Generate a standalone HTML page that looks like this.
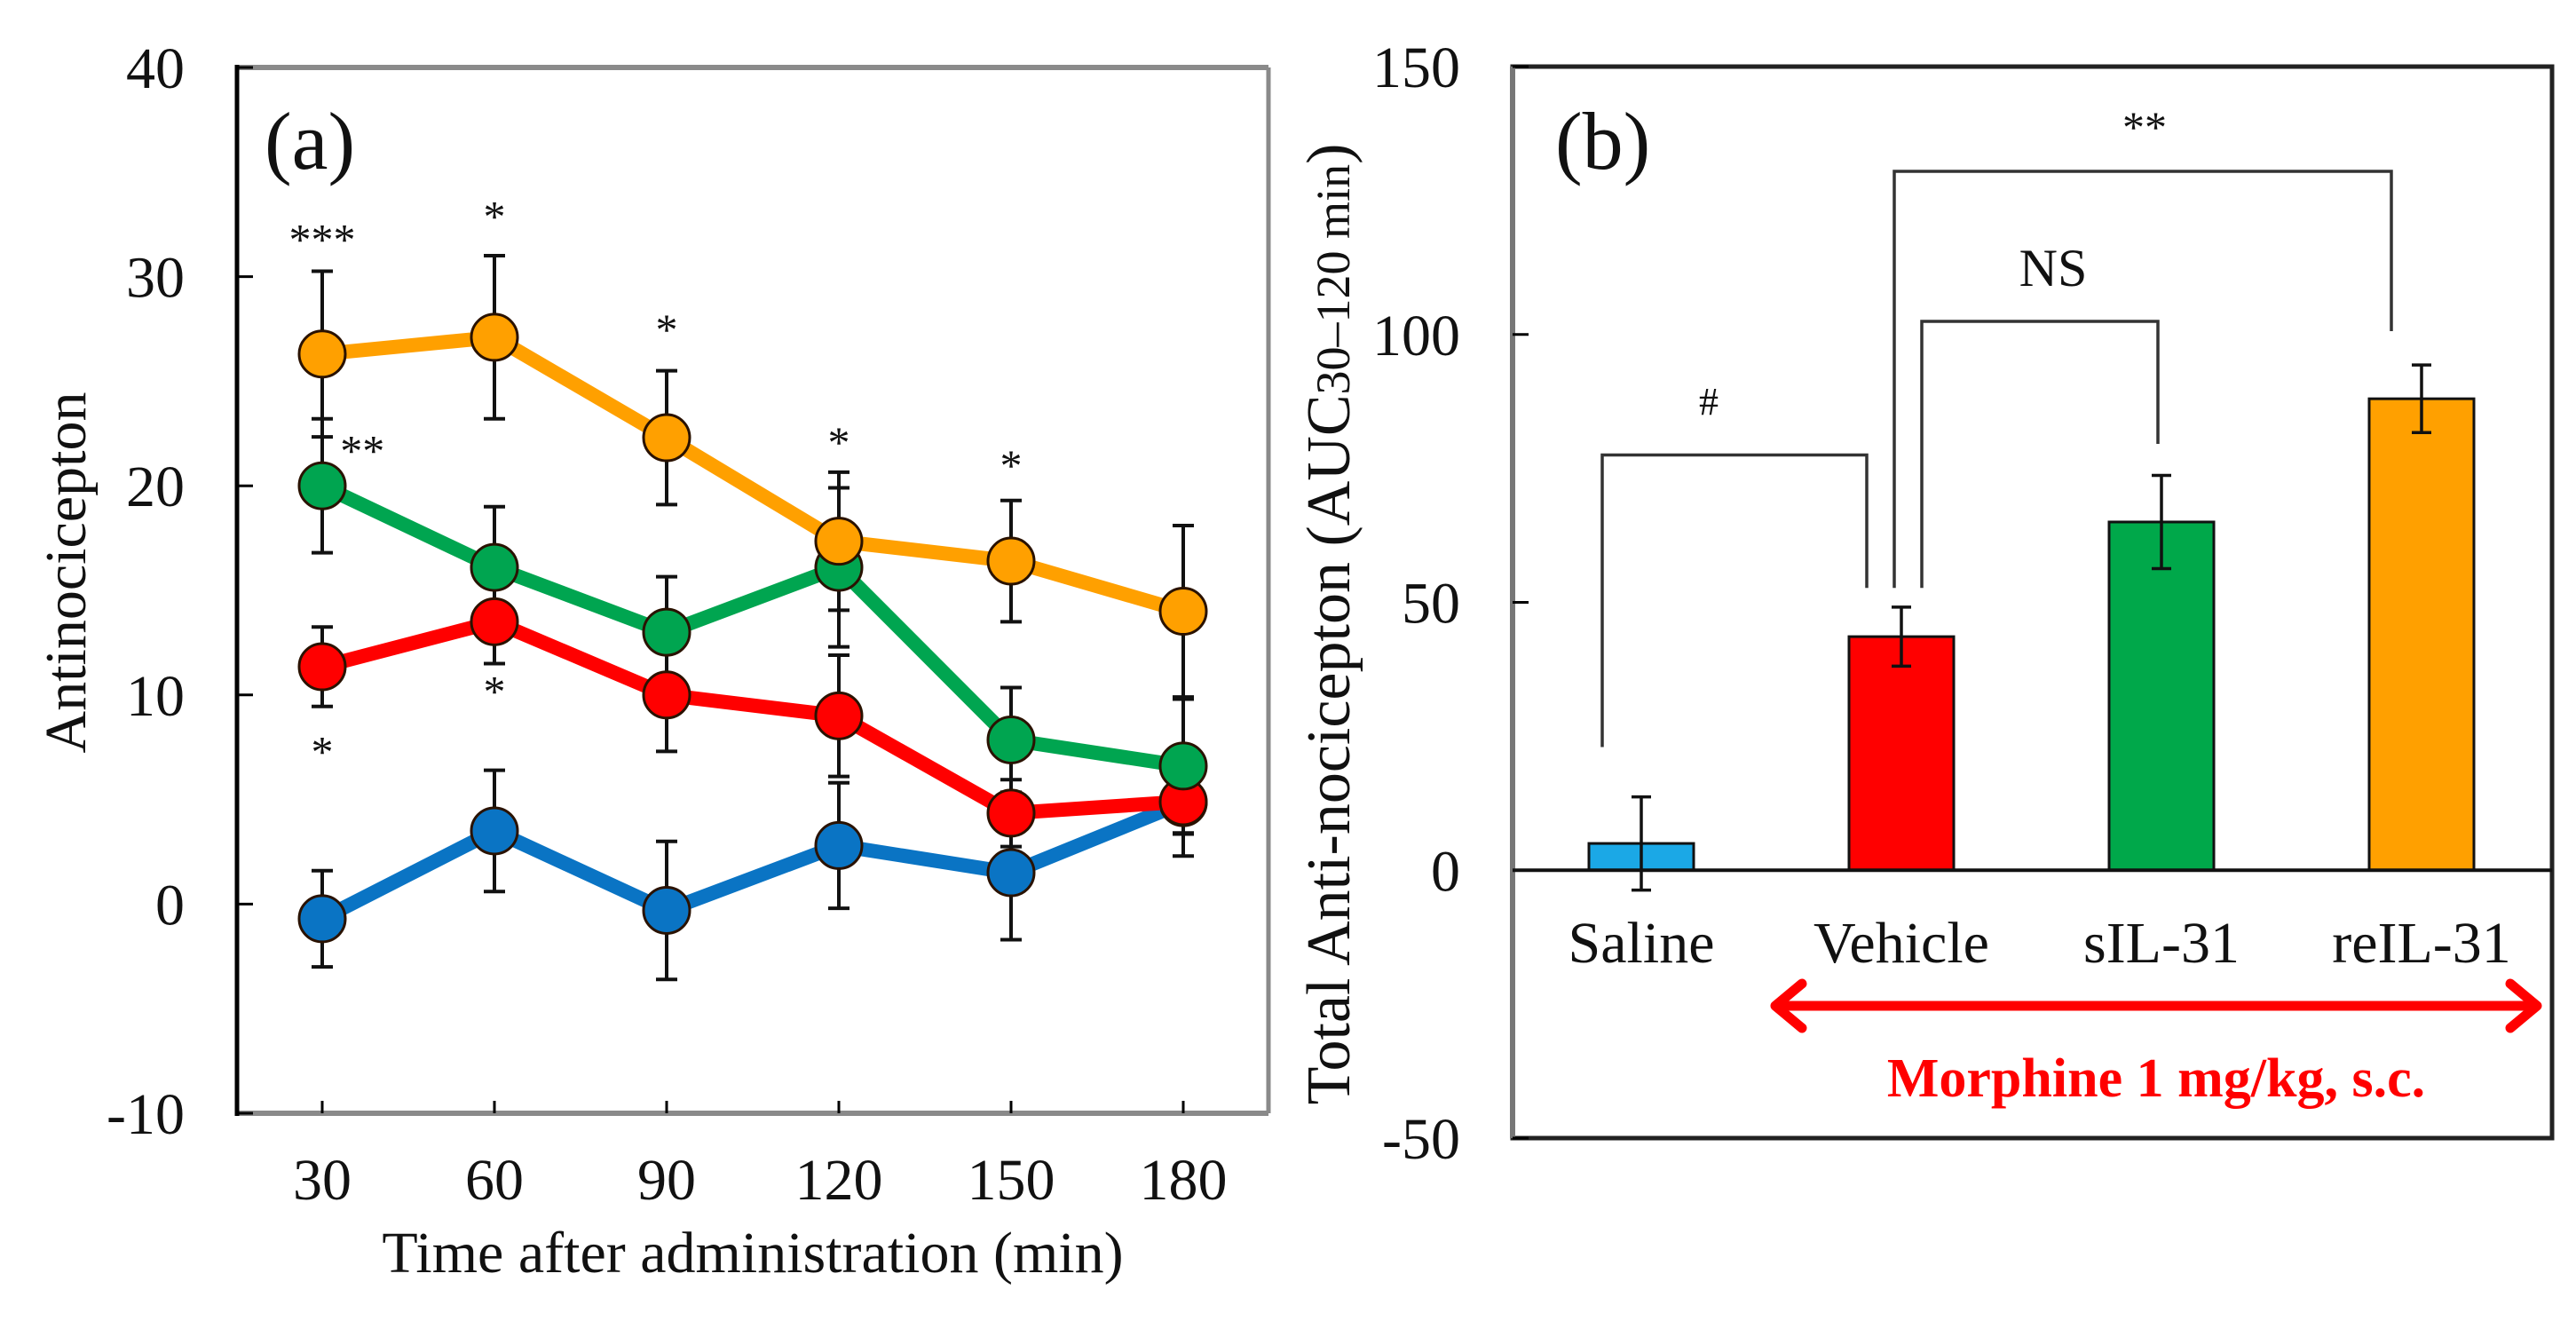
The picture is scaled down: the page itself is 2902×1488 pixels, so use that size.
<!DOCTYPE html>
<html><head><meta charset="utf-8"><style>
html,body{margin:0;padding:0;background:#fff}
svg{display:block;font-family:"Liberation Serif",serif}
</style></head><body>
<svg id="chart" width="2902" height="1488" viewBox="0 0 2902 1488" xmlns="http://www.w3.org/2000/svg">
<g id="pa"></g>
<g id="pb"></g>
</svg>
<script>
// ---------- Panel (a) data ----------
const timePoints = [30, 60, 90, 120, 150, 180];
const yTicksA = [-10, 0, 10, 20, 30, 40];
const seriesNames = ["saline", "vehicle", "sil31", "reil31"];
const salineMeans = [-0.7, 3.5, -0.3, 2.8, 1.5, 4.85];
const salineErr = [2.3, 2.9, 3.3, 3.0, 3.2, 1.5];
const vehicleMeans = [11.35, 13.5, 10.0, 9.0, 4.35, 4.9];
const vehicleErr = [1.9, 2.0, 2.7, 2.9, 1.6, 2.6];
const silMeans = [20.0, 16.1, 13.0, 16.1, 7.85, 6.6];
const silErr = [3.2, 2.9, 2.65, 3.8, 2.5, 3.2];
const reilMeans = [26.3, 27.1, 22.3, 17.35, 16.4, 14.0];
const reilErr = [3.96, 3.9, 3.2, 3.3, 2.9, 4.1];
const starLabels = ["***", "*", "*", "*", "*", "**", "*", "*"];
const starTimes = [30, 60, 90, 120, 150, 37, 60, 30];
const starValues = [32.0, 33.1, 27.7, 22.3, 21.2, 21.9, 10.4, 7.5];

// ---------- Panel (b) data ----------
const groups = ["Saline", "Vehicle", "sIL-31", "reIL-31"];
const aucMeans = [5, 43.6, 65, 88];
const aucErr = [8.7, 5.5, 8.7, 6.3];
const yTicksB = [-50, 0, 50, 100, 150];

const NS = "http://www.w3.org/2000/svg";
function el(tag, attrs, parent, text) {
  const e = document.createElementNS(NS, tag);
  for (const k in attrs) e.setAttribute(k, attrs[k]);
  if (text !== undefined) e.textContent = text;
  parent.appendChild(e);
  return e;
}
// ---------- Axes (a) ----------
const AL = 267, AR = 1429, AT = 76, AB = 1254;
const xA = t => 363 + (t - 30) * (1333 - 363) / 150;
const yA = v => AT + (40 - v) * (AB - AT) / 50;
const pa = document.getElementById('pa');

let e;
e = el('line', {x1: AL, y1: AT, x2: AR, y2: AT, stroke: '#8a8a8a', 'stroke-width': 6}, pa);
 
e = el('line', {x1: AR, y1: AT, x2: AR, y2: AB, stroke: '#8a8a8a', 'stroke-width': 5}, pa);
 
e = el('line', {x1: AL, y1: AB, x2: AR, y2: AB, stroke: '#8a8a8a', 'stroke-width': 6}, pa);
 
e = el('line', {x1: AL, y1: AT - 3, x2: AL, y2: AB + 3, stroke: '#000', 'stroke-width': 5}, pa);
 

yTicksA.forEach(v => {
  const y = yA(v);
  let t = el('line', {x1: AL, y1: y, x2: AL + 18, y2: y, stroke: '#000', 'stroke-width': 3}, pa);
   
  t = el('text', {x: 208, y: y + 23, 'text-anchor': 'end', 'font-size': 66, fill: '#111'}, pa, String(v));
   
});
timePoints.forEach(tp => {
  const x = xA(tp);
  let t = el('line', {x1: x, y1: AB, x2: x, y2: AB - 14, stroke: '#000', 'stroke-width': 3}, pa);
   
  t = el('text', {x: x, y: 1351, 'text-anchor': 'middle', 'font-size': 66, fill: '#111'}, pa, String(tp));
   
});
e = el('text', {x: 848, y: 1433, 'text-anchor': 'middle', 'font-size': 66, fill: '#111'}, pa, 'Time after administration (min)');
 
e = el('text', {x: 0, y: 0, 'text-anchor': 'middle', 'font-size': 66, fill: '#111', transform: 'translate(96,645) rotate(-90)'}, pa, 'Antinocicepton');
 
e = el('text', {x: 298, y: 190, 'font-size': 92, fill: '#111'}, pa, '(a)');
 

const allSeries = [
  {name: 'saline', m: salineMeans, s: salineErr, c: '#0a74c4'},
  {name: 'vehicle', m: vehicleMeans, s: vehicleErr, c: '#ff0000'},
  {name: 'sil31', m: silMeans, s: silErr, c: '#00a550'},
  {name: 'reil31', m: reilMeans, s: reilErr, c: '#ffa000'}
];
allSeries.forEach(sr => {
  sr.m.forEach((v, i) => {
    const x = xA(timePoints[i]);
    const y1 = yA(v + sr.s[i]), y2 = yA(v - sr.s[i]);
    let b = el('path', {d: `M${x},${y1}V${y2}M${x-12},${y1}H${x+12}M${x-12},${y2}H${x+12}`, stroke: '#111', 'stroke-width': 4, fill: 'none'}, pa);
     
  });
});
allSeries.forEach(sr => {
  const pts = sr.m.map((v, i) => xA(timePoints[i]) + ',' + yA(v)).join(' ');
  let l = el('polyline', {points: pts, stroke: sr.c, 'stroke-width': 16, fill: 'none', 'stroke-linejoin': 'round'}, pa);
   
  sr.m.forEach((v, i) => {
    let c = el('circle', {cx: xA(timePoints[i]), cy: yA(v), r: 26, fill: sr.c, stroke: '#2a1200', 'stroke-width': 3}, pa);
     
  });
});
starLabels.forEach((s, i) => {
  let t = el('text', {x: xA(starTimes[i]), y: yA(starValues[i]) + 22, 'text-anchor': 'middle', 'font-size': 50, fill: '#111'}, pa, s);
   
});

// ---------- Axes (b) ----------
const BL = 1704, BR = 2875, BT = 75, BB = 1282;
const yB = v => BT + (150 - v) * (BB - BT) / 200;
const barCenters = i => 1849 + i * 293;
const barW = 118;
const pb = document.getElementById('pb');
e = el('rect', {x: BL, y: BT, width: BR - BL, height: BB - BT, fill: 'none', stroke: '#222', 'stroke-width': 5}, pb);
 
e = el('line', {x1: BL, y1: BT, x2: BL, y2: BB, stroke: '#777', 'stroke-width': 6}, pb);
 
yTicksB.forEach(v => {
  const y = yB(v);
  let t = el('line', {x1: BL, y1: y, x2: BL + 18, y2: y, stroke: '#000', 'stroke-width': 3}, pb);
   
  t = el('text', {x: 1645, y: y + 23, 'text-anchor': 'end', 'font-size': 66, fill: '#111'}, pb, String(v));
   
});
e = el('text', {x: 0, y: 0, 'text-anchor': 'middle', 'font-size': 70, fill: '#111', transform: 'translate(1520,703) rotate(-90)'}, pb);
 
el('tspan', {}, e, 'Total Anti-nocicepton (AUC');
el('tspan', {'font-size': 54}, e, '30\u2013120 min');
el('tspan', {}, e, ')');
e = el('text', {x: 1752, y: 190, 'font-size': 92, fill: '#111'}, pb, '(b)');
 

const barColors = ['#1ba8e6', '#ff0000', '#00a84a', '#ffa000'];
groups.forEach((g, i) => {
  const cx = barCenters(i), v = aucMeans[i];
  let r = el('rect', {x: cx - barW / 2, y: yB(v), width: barW, height: yB(0) - yB(v), fill: barColors[i], stroke: '#111', 'stroke-width': 3}, pb);
   
  const y1 = yB(v + aucErr[i]), y2 = yB(v - aucErr[i]);
  let b = el('path', {d: `M${cx},${y1}V${y2}M${cx-11},${y1}H${cx+11}M${cx-11},${y2}H${cx+11}`, stroke: '#111', 'stroke-width': 3.5, fill: 'none'}, pb);
   
  let t = el('text', {x: cx, y: 1084, 'text-anchor': 'middle', 'font-size': 66, fill: '#111'}, pb, g);
   
});
e = el('line', {x1: BL, y1: yB(0), x2: BR, y2: yB(0), stroke: '#111', 'stroke-width': 4}, pb);
 

e = el('path', {d: `M1805,${yB(23)}V${yB(77.5)}H2103V${yB(52.7)}`, stroke: '#333', 'stroke-width': 3.5, fill: 'none'}, pb);
 
e = el('text', {x: 1925, y: 467, 'text-anchor': 'middle', 'font-size': 44, fill: '#111'}, pb, '#');
 
e = el('path', {d: `M2165,${yB(52.7)}V362H2431V500`, stroke: '#333', 'stroke-width': 3.5, fill: 'none'}, pb);
 
e = el('text', {x: 2313, y: 322, 'text-anchor': 'middle', 'font-size': 60, fill: '#111'}, pb, 'NS');
 
e = el('path', {d: `M2134,${yB(52.7)}V193H2694V373`, stroke: '#333', 'stroke-width': 3.5, fill: 'none'}, pb);
 
e = el('text', {x: 2416, y: 160, 'text-anchor': 'middle', 'font-size': 50, fill: '#111'}, pb, '**');
 

e = el('path', {d: 'M2000,1133H2858M2030,1108L2000,1133L2030,1158M2828,1108L2858,1133L2828,1158', stroke: '#ff0000', 'stroke-width': 11, fill: 'none', 'stroke-linecap': 'round', 'stroke-linejoin': 'round'}, pb);
 
e = el('text', {x: 2429, y: 1235, 'text-anchor': 'middle', 'font-size': 62, 'font-weight': 'bold', fill: '#ff0000'}, pb, 'Morphine 1 mg/kg, s.c.');
 
</script>
</body></html>
